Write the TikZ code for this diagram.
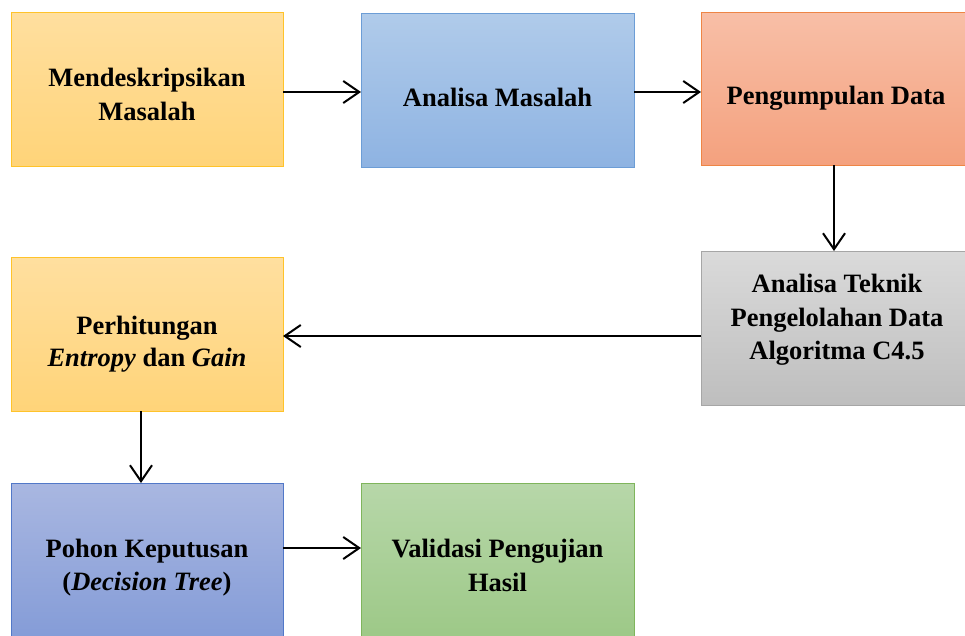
\documentclass[tikz,border=0pt]{standalone}
\usepackage{fontspec}
\setmainfont{LiberationSerif}[Extension=.ttf, UprightFont=*-Regular, BoldFont=*-Bold, ItalicFont=*-Italic, BoldItalicFont=*-BoldItalic]
\usetikzlibrary{arrows.meta}
\definecolor{ytop}{HTML}{FFDF9F}
\definecolor{ybot}{HTML}{FFD479}
\definecolor{ybd}{HTML}{FFC32A}
\definecolor{btop}{HTML}{B0CBEA}
\definecolor{bbot}{HTML}{8EB3E2}
\definecolor{bbd}{HTML}{6C9DD6}
\definecolor{otop}{HTML}{F8BFA7}
\definecolor{obot}{HTML}{F4A17E}
\definecolor{obd}{HTML}{EE8545}
\definecolor{gtop}{HTML}{DADADA}
\definecolor{gbot}{HTML}{BEBEBE}
\definecolor{gbd}{HTML}{A6A6A6}
\definecolor{ptop}{HTML}{A9B7E1}
\definecolor{pbot}{HTML}{839BD7}
\definecolor{pbd}{HTML}{5278C8}
\definecolor{ntop}{HTML}{B7D7A9}
\definecolor{nbot}{HTML}{9CC886}
\definecolor{nbd}{HTML}{7FB55C}
\begin{document}
\begin{tikzpicture}[x=1pt,y=-1pt,
  box/.style={draw, line width=0.9pt, anchor=north west, inner sep=0pt, outer sep=0pt},
  lbl/.style={anchor=base, inner sep=0pt, font=\fontsize{26.5}{32}\selectfont\bfseries},
  arr/.style={line width=2pt, -{Straight Barb[length=16pt,width=22pt]}}]
\clip (0,0) rectangle (965,635);
% boxes
\node[box, draw=ybd, top color=ytop, bottom color=ybot, minimum width=272pt, minimum height=154pt] (n1) at (11,12) {};
\node[box, draw=bbd, top color=btop, bottom color=bbot, minimum width=273pt, minimum height=154pt] (n2) at (361,13) {};
\node[box, draw=obd, top color=otop, bottom color=obot, minimum width=271pt, minimum height=153pt] (n3) at (701,12) {};
\node[box, draw=gbd, top color=gtop, bottom color=gbot, minimum width=271pt, minimum height=154pt] (n4) at (701,251) {};
\node[box, draw=ybd, top color=ytop, bottom color=ybot, minimum width=272pt, minimum height=154pt] (n5) at (11,257) {};
\node[box, draw=pbd, top color=ptop, bottom color=pbot, minimum width=272pt, minimum height=160pt] (n6) at (11,483) {};
\node[box, draw=nbd, top color=ntop, bottom color=nbot, minimum width=273pt, minimum height=160pt] (n7) at (361,483) {};
% texts
\node[lbl] (t1a) at (147,86) {Mendeskripsikan};
\node[lbl] (t1b) at (147,120) {Masalah};
\node[lbl] (t2) at (497.5,106) {Analisa Masalah};
\node[lbl] (t3) at (836,104) {Pengumpulan Data};
\node[lbl] (t4a) at (837,292) {Analisa Teknik};
\node[lbl] (t4b) at (837,326) {Pengelolahan Data};
\node[lbl] (t4c) at (837,359) {Algoritma C4.5};
\node[lbl] (t5a) at (147,334) {Perhitungan};
\node[lbl] (t5b) at (147,366) {\textit{Entropy} dan \textit{Gain}};
\node[lbl] (t6a) at (147,557) {Pohon Keputusan};
\node[lbl] (t6b) at (147,590) {(\textit{Decision Tree})};
\node[lbl] (t7a) at (497.5,557) {Validasi Pengujian};
\node[lbl] (t7b) at (497.5,591) {Hasil};
% arrows
\draw[arr] (n1.east |- 0,92) -- (n2.west |- 0,92);
\draw[arr] (n2.east |- 0,92) -- (n3.west |- 0,92);
\draw[arr] (n3.south -| 834,0) -- (n4.north -| 834,0);
\draw[arr] (n4.west |- 0,336) -- (n5.east |- 0,336);
\draw[arr] (n5.south -| 141,0) -- (n6.north -| 141,0);
\draw[arr] (n6.east |- 0,548) -- (n7.west |- 0,548);
\end{tikzpicture}
\end{document}
